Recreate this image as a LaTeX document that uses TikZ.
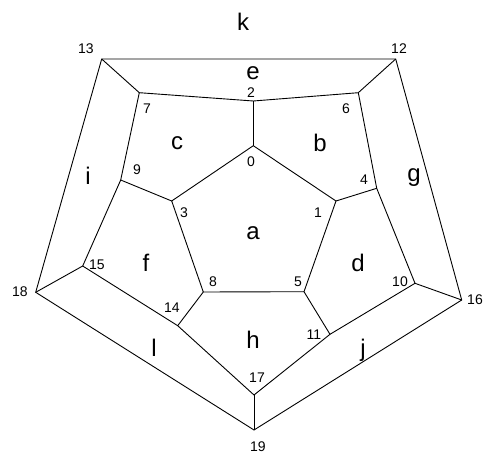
\documentclass[tikz,border=0pt]{standalone}
\usepackage{fontspec}
\setmainfont{Liberation Sans}
\begin{document}
\begin{tikzpicture}[x=1pt,y=-1pt,line width=0.9pt,
  vtx/.style={coordinate},
  num/.style={font=\fontsize{14}{14}\selectfont,inner sep=0pt},
  face/.style={font=\fontsize{24}{24}\selectfont,inner sep=0pt}]
\useasboundingbox (0,0) rectangle (485,457);
% vertices
\coordinate (v0) at (253.3,145.7);
\coordinate (v1) at (336,201);
\coordinate (v2) at (253.3,101);
\coordinate (v3) at (171.7,201);
\coordinate (v4) at (376.7,188.3);
\coordinate (v5) at (304,291.7);
\coordinate (v6) at (358.3,92.7);
\coordinate (v7) at (139.3,92.7);
\coordinate (v8) at (203.3,292);
\coordinate (v9) at (120.7,180);
\coordinate (v10) at (415,283.3);
\coordinate (v11) at (330,334.3);
\coordinate (v12) at (395.7,59);
\coordinate (v13) at (101.7,59);
\coordinate (v14) at (177.7,325.7);
\coordinate (v15) at (82.7,266);
\coordinate (v16) at (461.7,300);
\coordinate (v17) at (254,395);
\coordinate (v18) at (35.7,292.3);
\coordinate (v19) at (254,430);
% edges
\draw (v13) -- (v12) -- (v16) -- (v19) -- (v18) -- cycle;
\draw (v7) -- (v2) -- (v6) -- (v4) -- (v10) -- (v11) -- (v17) -- (v14) -- (v15) -- (v9) -- cycle;
\draw (v0) -- (v1) -- (v5) -- (v8) -- (v3) -- cycle;
\draw (v13) -- (v7);
\draw (v12) -- (v6);
\draw (v16) -- (v10);
\draw (v19) -- (v17);
\draw (v18) -- (v15);
\draw (v0) -- (v2);
\draw (v1) -- (v4);
\draw (v5) -- (v11);
\draw (v8) -- (v14);
\draw (v3) -- (v9);
% vertex numbers
\node[num] (n0) at (251,162) {0};
\node[num] (n1) at (318,213) {1};
\node[num] (n2) at (251,93) {2};
\node[num] (n3) at (184,213) {3};
\node[num] (n4) at (364,180) {4};
\node[num] (n5) at (298,282) {5};
\node[num] (n6) at (346,109) {6};
\node[num] (n7) at (147,109) {7};
\node[num] (n8) at (213,282) {8};
\node[num] (n9) at (137,170) {9};
\node[num] (n10) at (400,282) {10};
\node[num] (n11) at (314,335) {11};
\node[num] (n12) at (399,49) {12};
\node[num] (n13) at (86,49) {13};
\node[num] (n14) at (172,308) {14};
\node[num] (n15) at (97,265) {15};
\node[num] (n16) at (475,300) {16};
\node[num] (n17) at (257,378) {17};
\node[num] (n18) at (20,292) {18};
\node[num] (n19) at (258,447) {19};
% face letters
\node[face] (fa) at (253,233) {a};
\node[face] (fb) at (320,143) {b};
\node[face] (fc) at (177,143) {c};
\node[face] (fd) at (358,263) {d};
\node[face] (fe) at (253,73) {e};
\node[face] (ff) at (146,263) {f};
\node[face] (fg) at (414,178) {g};
\node[face] (fh) at (253,340) {h};
\node[face] (fi) at (88,176) {i};
\node[face] (fj) at (363,350) {j};
\node[face] (fk) at (243,22) {k};
\node[face] (fl) at (154,348) {l};
\end{tikzpicture}
\end{document}
